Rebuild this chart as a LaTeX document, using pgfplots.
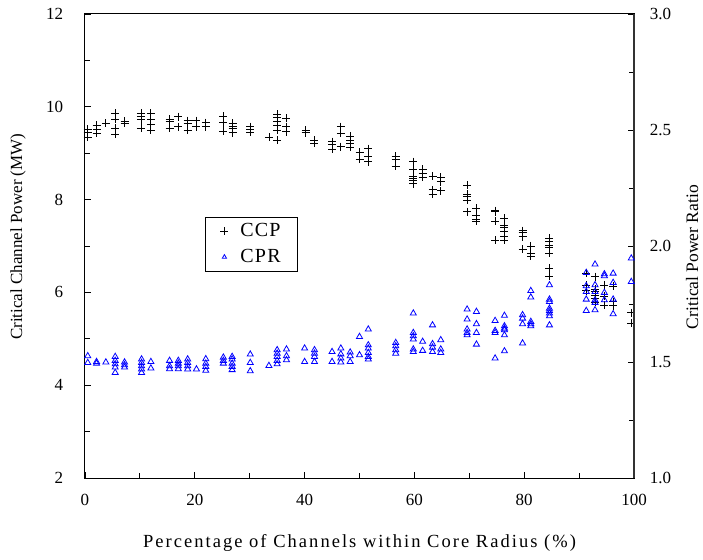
\documentclass[border=0pt]{standalone}
\usepackage{fontspec}
\setmainfont{Liberation Serif}
\newfontfamily\spaced[LetterSpace=11]{Liberation Serif}
\newfontfamily\legspaced[LetterSpace=6]{Liberation Serif}
\usepackage{pgfplots}
\pgfplotsset{compat=1.18}
\definecolor{cprblue}{RGB}{0,0,255}
\begin{document}
\fontsize{17}{20}\selectfont
\begin{tikzpicture}
\begin{axis}[
  at={(0,0)}, anchor=south west,
  scale only axis, width=549pt, height=464pt,
  xmin=0, xmax=100, ymin=2, ymax=12,
  xtick={0,20,...,100}, minor x tick num=1,
  ytick={2,4,...,12}, minor y tick num=1,
  tick align=inside, xtick pos=left, ytick pos=left,
  major tick length=6pt, minor tick length=5pt,
  axis line style={line width=1pt},
  tick style={line width=0.8pt, black},
  /pgf/number format/assume math mode=true,
  ticklabel style={font=\fontsize{17}{20}\selectfont},
  yticklabel style={xshift=-16pt},
  xticklabel style={yshift=-10pt},
  xlabel={\spaced Percentage of Channels within Core Radius (\%)},
  ylabel={Critical Channel Power (MW)},
  xlabel style={at={(axis description cs:0.5,-0.14)}, anchor=center, font=\fontsize{18.5}{22}\selectfont},
  ylabel style={at={(axis description cs:-0.122,0.52)}, anchor=center, rotate=0, font=\fontsize{17}{20}\selectfont},
  legend style={at={(axis description cs:0.2186,0.5625)}, anchor=north west,
    draw=black, line width=0.8pt, font=\legspaced\fontsize{20}{24}\selectfont,
    inner xsep=15pt, inner ysep=4pt, row sep=6pt, cells={anchor=west},
    /tikz/every odd column/.append style={column sep=10pt}},
  legend image post style={xshift=9pt},
  legend cell align=left,
]
\addplot[only marks, mark=+, mark size=4pt, black, line width=0.8pt] coordinates {
(0.5,9.52)(0.5,9.44)(0.5,9.35)
(2.1,9.60)(2.1,9.52)(2.1,9.43)
(3.8,9.64)
(5.5,9.86)(5.5,9.73)(5.5,9.54)(5.5,9.41)
(7.2,9.69)(7.2,9.64)
(10.2,9.86)(10.2,9.79)(10.2,9.72)(10.2,9.54)
(12.0,9.86)(12.0,9.73)(12.0,9.61)(12.0,9.49)
(15.4,9.73)(15.4,9.68)(15.4,9.54)
(17.0,9.79)(17.0,9.57)
(18.7,9.70)(18.7,9.64)(18.7,9.50)
(20.3,9.70)(20.3,9.57)
(22.0,9.66)(22.0,9.57)
(25.2,9.80)(25.2,9.66)(25.2,9.48)
(26.9,9.64)(26.9,9.57)(26.9,9.54)(26.9,9.44)
(30.1,9.57)(30.1,9.52)(30.1,9.45)
(33.5,9.34)
(35.0,9.84)(35.0,9.77)(35.0,9.68)(35.0,9.59)(35.0,9.49)(35.0,9.28)
(36.7,9.75)(36.7,9.57)(36.7,9.46)
(40.2,9.49)(40.2,9.44)
(41.8,9.28)(41.8,9.21)
(45.0,9.25)(45.0,9.18)(45.0,9.08)
(46.6,9.57)(46.6,9.43)(46.6,9.14)
(48.3,9.36)(48.3,9.28)(48.3,9.21)(48.3,9.13)
(50.0,9.02)(50.0,8.87)
(51.6,9.10)(51.6,8.93)(51.6,8.82)
(56.6,8.93)(56.6,8.87)(56.6,8.72)
(59.8,8.82)(59.8,8.65)(59.8,8.51)(59.8,8.46)(59.8,8.41)(59.8,8.34)
(61.5,8.65)(61.5,8.57)(61.5,8.48)
(63.3,8.51)(63.3,8.21)(63.3,8.12)
(64.8,8.48)(64.8,8.39)(64.8,8.19)
(69.6,8.31)(69.6,8.12)(69.6,8.06)(69.6,7.99)(69.6,7.74)
(71.3,7.81)(71.3,7.67)(71.3,7.58)(71.3,7.53)
(74.7,7.76)(74.7,7.74)(74.7,7.53)(74.7,7.12)
(76.4,7.60)(76.4,7.45)(76.4,7.40)(76.4,7.31)(76.4,7.20)(76.4,7.12)
(79.7,7.33)(79.7,7.29)(79.7,7.20)(79.7,6.93)
(81.2,7.00)(81.2,6.84)(81.2,6.78)
(84.6,7.17)(84.6,7.10)(84.6,7.02)(84.6,6.97)(84.6,6.84)(84.6,6.52)(84.6,6.35)
(91.3,6.42)(91.3,6.41)(91.3,6.16)(91.3,6.04)
(92.9,6.34)(92.9,6.07)(92.9,6.02)(92.9,5.94)(92.9,5.87)(92.9,5.79)
(94.6,6.16)(94.6,5.92)(94.6,5.73)
(96.2,6.13)(96.2,5.80)(96.2,5.71)
(99.5,5.56)(99.5,5.33)
};
\addlegendentry{CCP}
\addlegendimage{only marks, mark=triangle, mark size=2.5pt, cprblue, line width=0.8pt}
\addlegendentry{CPR}
\end{axis}
\begin{axis}[
  at={(0,0)}, anchor=south west,
  scale only axis, width=549pt, height=464pt,
  xmin=0, xmax=100, ymin=1, ymax=3,
  axis x line=none, axis y line*=right,
  ytick={1,1.5,...,3}, minor y tick num=1,
  tick align=inside,
  major tick length=6pt, minor tick length=5pt,
  axis line style={line width=1.1pt, black!80},
  tick style={line width=0.8pt, black},
  /pgf/number format/assume math mode=true,
  /pgf/number format/fixed, /pgf/number format/fixed zerofill,
  /pgf/number format/precision=1,
  ticklabel style={font=\fontsize{17}{20}\selectfont},
  yticklabel style={xshift=10pt},
  ylabel={Critical Power Ratio},
  ylabel style={at={(axis description cs:1.106,0.476)}, anchor=center, rotate=0, font=\fontsize{17.5}{20}\selectfont},
]
\addplot[only marks, mark=triangle, mark size=3.5pt, cprblue, line width=0.8pt] coordinates {
(0.5,1.526)(0.5,1.497)
(2.1,1.501)(2.1,1.494)
(3.8,1.499)
(5.5,1.523)(5.5,1.506)(5.5,1.491)(5.5,1.477)(5.5,1.454)
(7.2,1.499)(7.2,1.487)(7.2,1.477)
(10.3,1.512)(10.3,1.497)(10.3,1.483)(10.3,1.469)(10.3,1.454)
(12.0,1.501)(12.0,1.473)
(15.4,1.506)(15.4,1.483)(15.4,1.470)
(17.0,1.506)(17.0,1.494)(17.0,1.483)(17.0,1.470)
(18.7,1.512)(18.7,1.497)(18.7,1.483)(18.7,1.469)
(20.3,1.469)
(22.0,1.513)(22.0,1.494)(22.0,1.480)(22.0,1.463)
(25.2,1.520)(25.2,1.506)(25.2,1.494)
(26.8,1.523)(26.8,1.512)(26.8,1.494)(26.8,1.480)(26.8,1.466)
(30.1,1.533)(30.1,1.497)(30.1,1.461)
(33.5,1.484)
(35.0,1.552)(35.0,1.537)(35.0,1.523)(35.0,1.506)(35.0,1.491)
(36.7,1.555)(36.7,1.526)(36.7,1.509)
(40.0,1.559)(40.0,1.501)
(41.8,1.552)(41.8,1.537)(41.8,1.523)(41.8,1.501)
(45.0,1.544)(45.0,1.501)
(46.6,1.559)(46.6,1.534)(46.6,1.516)(46.6,1.499)
(48.3,1.542)(48.3,1.526)(48.3,1.501)
(50.0,1.609)(50.0,1.530)
(51.6,1.641)(51.6,1.573)(51.6,1.559)(51.6,1.540)(51.6,1.523)(51.6,1.512)
(56.6,1.583)(56.6,1.569)(56.6,1.552)(56.6,1.537)
(59.8,1.710)(59.8,1.626)(59.8,1.612)(59.8,1.598)(59.8,1.555)(59.8,1.544)
(61.5,1.588)(61.5,1.549)
(63.3,1.659)(63.3,1.578)(63.3,1.563)(63.3,1.544)
(64.8,1.595)(64.8,1.555)(64.8,1.540)
(69.6,1.727)(69.6,1.684)(69.6,1.641)(69.6,1.626)(69.6,1.616)
(71.3,1.717)(71.3,1.664)(71.3,1.626)(71.3,1.576)
(74.7,1.678)(74.7,1.635)(74.7,1.626)(74.7,1.516)
(76.4,1.700)(76.4,1.655)(76.4,1.645)(76.4,1.638)(76.4,1.616)(76.4,1.547)
(79.7,1.703)(79.7,1.688)(79.7,1.664)(79.7,1.581)
(81.2,1.807)(81.2,1.779)(81.2,1.674)(81.2,1.664)(81.2,1.655)
(84.6,1.832)(84.6,1.770)(84.6,1.760)(84.6,1.731)(84.6,1.721)(84.6,1.710)(84.6,1.698)(84.6,1.659)
(91.3,1.885)(91.3,1.828)(91.3,1.803)(91.3,1.770)(91.3,1.721)
(92.9,1.921)(92.9,1.832)(92.9,1.803)(92.9,1.767)(92.9,1.756)(92.9,1.724)
(94.6,1.879)(94.6,1.871)(94.6,1.799)(94.6,1.767)
(96.2,1.882)(96.2,1.842)(96.2,1.770)(96.2,1.707)
(99.5,1.947)(99.5,1.846)
};
\end{axis}
\pgfresetboundingbox
\path[use as bounding box] (-85pt,-81pt) rectangle (618pt,478pt);
\end{tikzpicture}
\end{document}
